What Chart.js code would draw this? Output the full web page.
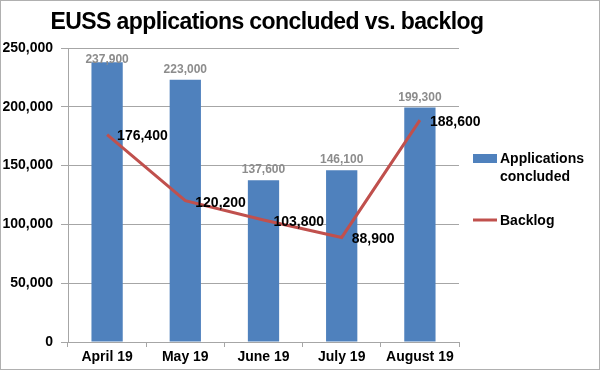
<!DOCTYPE html>
<html>
<head>
<meta charset="utf-8">
<script src="https://cdn.jsdelivr.net/npm/chart.js@4"></script>
<style>
  html, body { margin: 0; padding: 0; background: #fff; }
  #wrap { width: 600px; height: 370px; }
</style>
</head>
<body>
<div id="wrap"><canvas id="chart" width="600" height="370"></canvas></div>
<script>
// ==================================================
// DATA
// ==================================================
const months = ["April 19", "May 19", "June 19", "July 19", "August 19"];
const concluded = [237900, 223000, 137600, 146100, 199300];
const backlog = [176400, 120200, 103800, 88900, 188600];
const yTicks = [0, 50000, 100000, 150000, 200000, 250000];

const BLUE = "#4f81bd";
const RED = "#c0504d";
const GRID = "#a6a6a6";
const FONT = "'Liberation Sans', Arial, Helvetica, sans-serif";

const fmt = (v) => v.toLocaleString("en-US");

// ==================================================
// PLUGIN: title, labels, legend, frame
// ==================================================
const extras = {
  id: "extras",
  afterDatasetsDraw(chart) {
    const ctx = chart.ctx;
    const area = chart.chartArea;
    ctx.save();

    // bar value labels (grey)
    const barMeta = chart.getDatasetMeta(0);
    ctx.font = "bold 12px " + FONT;
    ctx.fillStyle = "#8c8c8c";
    ctx.textAlign = "center";
    ctx.textBaseline = "alphabetic";
    barMeta.data.forEach((bar, i) => {
      const y = Math.max(bar.y - 7, area.top + 15);
      ctx.fillText(fmt(concluded[i]), bar.x, y);
    });

    // line value labels (black, right of point)
    const lineMeta = chart.getDatasetMeta(1);
    ctx.font = "bold 14px " + FONT;
    ctx.fillStyle = "#000";
    ctx.textAlign = "left";
    ctx.textBaseline = "middle";
    lineMeta.data.forEach((pt, i) => {
      ctx.fillText(fmt(backlog[i]), pt.x + 10, pt.y + 2);
    });
    ctx.restore();
  },
  afterDraw(chart) {
    const ctx = chart.ctx;
    ctx.save();

    // title
    ctx.font = "bold 23px " + FONT;
    ctx.letterSpacing = "-0.6px";
    ctx.fillStyle = "#000";
    ctx.textAlign = "center";
    ctx.textBaseline = "alphabetic";
    ctx.fillText("EUSS applications concluded vs. backlog", 267, 29);
    ctx.letterSpacing = "0px";

    // legend
    ctx.fillStyle = BLUE;
    ctx.fillRect(473, 154, 24, 9);
    ctx.strokeStyle = RED;
    ctx.lineWidth = 3;
    ctx.beginPath();
    ctx.moveTo(473, 220);
    ctx.lineTo(497, 220);
    ctx.stroke();

    ctx.font = "bold 14px " + FONT;
    ctx.fillStyle = "#000";
    ctx.textAlign = "left";
    ctx.textBaseline = "middle";
    ctx.fillText("Applications", 500, 159);
    ctx.fillText("concluded", 500, 177);
    ctx.fillText("Backlog", 500, 221);

    // frame
    ctx.strokeStyle = "#b0b0b0";
    ctx.lineWidth = 1;
    ctx.strokeRect(0.5, 0.5, 599, 369);
    ctx.restore();
  },
};

// ==================================================
// CHART
// ==================================================
const ctx = document.getElementById("chart").getContext("2d");
new Chart(ctx, {
  data: {
    labels: months,
    datasets: [
      {
        type: "bar",
        label: "Applications concluded",
        data: concluded,
        backgroundColor: BLUE,
        borderWidth: 0,
        barPercentage: 0.4,
        categoryPercentage: 1,
        order: 1,
      },
      {
        type: "line",
        label: "Backlog",
        data: backlog,
        borderColor: RED,
        borderWidth: 3,
        pointRadius: 0,
        tension: 0,
        fill: false,
        order: 0,
      },
    ],
  },
  options: {
    responsive: false,
    animation: false,
    layout: { padding: { top: 48, right: 141, left: 0, bottom: 0 } },
    plugins: {
      legend: { display: false },
      title: { display: false },
      tooltip: { enabled: false },
    },
    scales: {
      x: {
        offset: true,
        grid: {
          offset: true,
          drawOnChartArea: false,
          drawTicks: true,
          tickLength: 5,
          color: GRID,
        },
        border: { display: true, color: GRID },
        ticks: {
          color: "#000",
          font: { family: FONT, size: 14, weight: "bold" },
          padding: 2,
          maxRotation: 0,
        },
        afterFit: (scale) => {
          scale.height = 28;
        },
      },
      y: {
        min: 0,
        max: 250000,
        afterBuildTicks: (scale) => {
          scale.ticks = yTicks.map((v) => ({ value: v }));
        },
        grid: { color: GRID, tickLength: 7, drawTicks: true },
        border: { display: true, color: GRID },
        ticks: {
          color: "#000",
          font: { family: FONT, size: 14, weight: "bold" },
          padding: 8,
          callback: (v) => fmt(v),
        },
        afterFit: (scale) => {
          scale.width = 68;
        },
      },
    },
  },
  plugins: [extras],
});
</script>
</body>
</html>
